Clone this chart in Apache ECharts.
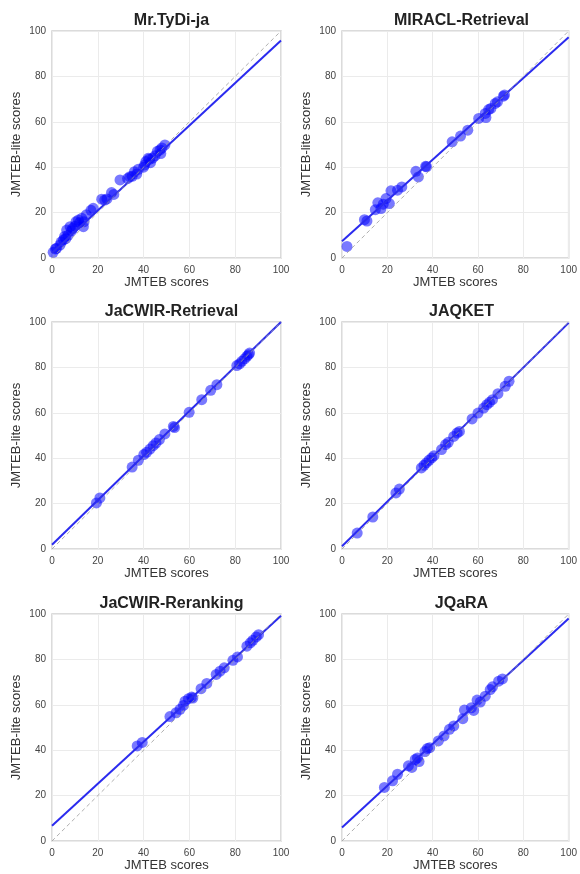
<!DOCTYPE html>
<html>
<head>
<meta charset="utf-8">
<script src="https://cdn.jsdelivr.net/npm/echarts@6/dist/echarts.min.js"></script>
<style>
html,body{margin:0;padding:0;background:#fff;}
#chart{width:580px;height:874px;}
</style>
</head>
<body>
<div id="chart"></div>
<script>
// ---- Data ----
const titles = ['Mr.TyDi-ja','MIRACL-Retrieval','JaCWIR-Retrieval','JAQKET','JaCWIR-Reranking','JQaRA'];
const axisTicks = [0,20,40,60,80,100];
const xName = 'JMTEB scores';
const yName = 'JMTEB-lite scores';

const mrtydiX = [0.5,1.5,2,3.5,4,5,5.5,6,6.4,7,7.9,8.5,9,10,10.5,11.5,12,13,13.7,14,15,17,18,21.7,23,24,26,27,29.7,33,34,35,36,37,37.7,40,40.5,41,42,42.5,43,44,45,46,47.2,47.5,48,49.3];
const mrtydiY = [2.5,4,4.3,5.7,7,8,9.5,8.5,12.3,10,13.8,12,13,14,16,16.7,15.5,17.5,13.8,16,19,21,21.9,25.9,25.5,26,28.8,28,34.4,35,35.8,36,38,37,39.1,40,41,42.5,43.9,43.5,42,44,45,47,47.6,46,48.5,49.8];

const miraclX = [2.2,9.9,11,14.7,15.8,17.2,18.2,19.4,20.9,21.6,24.5,26.4,32.6,33.7,36.9,37.3,48.6,52.3,55.5,60.3,63.2,63.5,64.7,65.7,67.6,68.6,71.2,71.7];
const miraclY = [5.1,16.9,16.3,21.3,24.3,21.8,23.7,26.2,24,29.6,29.9,31.3,38.2,35.7,40.4,40.2,51.2,53.7,56.3,61.5,63.7,61.9,65.4,65.9,68.1,68.8,71.3,71.8];

const jacwirRetX = [19.4,20.9,35,37.7,40.1,41.3,42.8,44.2,45.4,46.9,49.3,53,53.5,59.9,65.4,69.3,72,80.7,81.9,82.9,84.1,85.1,85.8,86.3];
const jacwirRetY = [20.3,22.5,36.1,39.1,41.6,42.6,44,45.5,46.7,48.2,50.7,54,53.5,60.2,65.8,69.9,72.4,80.8,81.6,82.7,83.8,84.9,85.6,86.3];

const jaqketX = [6.7,13.6,23.8,25.3,35,36.2,37.2,38.4,39.6,40.6,43.9,45.7,46.9,49.3,50.8,51.8,57.4,60,62.5,63.9,65.1,66.4,68.8,72,73.7];
const jaqketY = [7.0,14.1,24.7,26.4,35.7,36.9,37.9,39.1,40.1,41.1,43.8,46,47,49.6,51.1,51.8,57.3,59.9,62.1,63.6,64.6,65.8,68.4,71.7,73.9];

const jacwirRerX = [37.2,39.4,51.5,54.2,55.9,57.4,58.1,59.6,61,61.5,65.1,67.6,71.7,73.4,75.2,79,81,85.1,86.6,87.7,89.2,90.2];
const jacwirRerY = [41.9,43.4,54.8,56.5,58,59.7,61.6,62.7,63.4,63,67.1,69.4,73.4,74.8,76.3,79.6,81.1,85.8,87.3,88.4,89.9,90.9];

const jqaraX = [18.7,22.3,24.5,29.3,30.8,32.3,33.3,34,36.6,37.7,38.7,42.5,45,47.4,49.3,53.3,54,57.1,58.1,59.6,61,63.2,65.4,66.4,69.1,70.8];
const jqaraY = [23.6,26.5,29.4,33.1,32.4,35.9,36.6,35,39.4,40.8,41.1,44.1,46.3,49.2,50.7,53.9,57.7,58.7,57.5,62.1,61.2,63.8,66.7,67.9,70.4,71.4];

// regression line values read at x=0 and x=100
const fitAt0 =   [2.2, 7.4, 1.9, 1.2, 6.7, 5.9];
const fitAt100 = [95.8, 97.2, 100, 99.6, 99.2, 98.0];

const xs = [mrtydiX, miraclX, jacwirRetX, jaqketX, jacwirRerX, jqaraX];
const ys = [mrtydiY, miraclY, jacwirRetY, jaqketY, jacwirRerY, jqaraY];

// ---- Layout ----
const lefts = [52, 342];
const tops = [31, 322, 614];
const W = 229, H = 227;
const font = '"Liberation Sans", Arial, Helvetica, sans-serif';

const grid = [], xAxis = [], yAxis = [], series = [], title = [];
for (let i = 0; i < 6; i++) {
  const col = i % 2, row = Math.floor(i / 2);
  grid.push({left: lefts[col], top: tops[row], width: W, height: H, show: true,
    borderColor: '#cfcfcf', borderWidth: 1.5, backgroundColor: 'transparent'});
  const axisCommon = {
    min: axisTicks[0], max: axisTicks[axisTicks.length-1], interval: 20,
    nameLocation: 'middle',
    nameTextStyle: {fontFamily: font, fontSize: 13, color: '#333'},
    axisLine: {show: false}, axisTick: {show: false},
    splitLine: {show: true, lineStyle: {color: '#ebebeb', width: 1}},
    axisLabel: {fontFamily: font, fontSize: 10, color: '#444'}
  };
  xAxis.push(Object.assign({}, axisCommon, {type: 'value', gridIndex: i, name: xName, nameGap: 18,
    axisLabel: Object.assign({}, axisCommon.axisLabel, {margin: 7})}));
  yAxis.push(Object.assign({}, axisCommon, {type: 'value', gridIndex: i, name: yName, nameGap: 29,
    axisLabel: Object.assign({}, axisCommon.axisLabel, {margin: 6})}));
  title.push({text: titles[i], left: lefts[col] + W/2, top: tops[row] - 23, textAlign: 'center',
    textStyle: {fontFamily: font, fontSize: 16, fontWeight: 'bold', color: '#222'}});
  const pts = xs[i].map((x, k) => [x, ys[i][k]]);
  series.push({type: 'scatter', xAxisIndex: i, yAxisIndex: i, data: pts, symbolSize: 11,
    itemStyle: {color: 'rgba(0,0,255,0.66)'}, z: 2, silent: true});
  series.push({type: 'line', xAxisIndex: i, yAxisIndex: i, data: [[0, fitAt0[i]], [100, fitAt100[i]]],
    symbol: 'none', lineStyle: {color: '#2b2bef', width: 2}, z: 3, silent: true});
  series.push({type: 'line', xAxisIndex: i, yAxisIndex: i, data: [[0, 0], [100, 100]],
    symbol: 'none', lineStyle: {color: '#9a9a9a', width: 0.8, type: [4, 3]}, z: 4, silent: true});
}

const chart = echarts.init(document.getElementById('chart'), null, {renderer: 'canvas'});
chart.setOption({animation: false, backgroundColor: '#fff', title, grid, xAxis, yAxis, series});
</script>
</body>
</html>
